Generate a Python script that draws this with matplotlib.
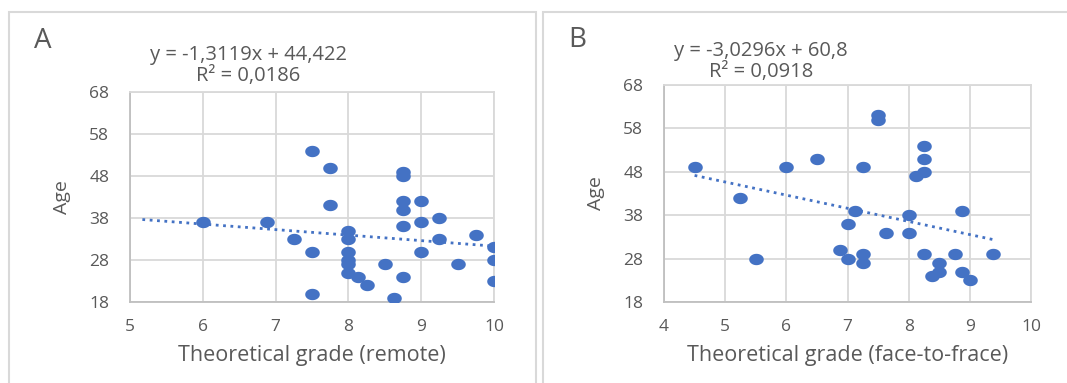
import numpy as np
import matplotlib
matplotlib.use("Agg")
import matplotlib.pyplot as plt
from matplotlib.patches import Rectangle
from matplotlib.markers import MarkerStyle

plt.rcParams['font.family'] = ['Open Sans', 'DejaVu Sans']

# panel A: remote
a_x = [7.5, 7.75, 8.75, 8.75, 7.75, 8.75, 9, 8.75, 6, 6.875, 9.25, 9, 8.75, 8, 8, 7.25, 9.25,
       9.75, 10, 7.5, 8, 9, 8, 8, 10, 8.5, 9.5, 8, 8.125, 8.75, 8.25, 10, 7.5, 8.625]
a_y = [54, 50, 49, 48, 41, 42, 42, 40, 37, 37, 38, 37, 36, 35, 33, 33, 33,
       34, 31, 30, 30, 30, 28, 27, 28, 27, 27, 25, 24, 24, 22, 23, 20, 19]
a_slope, a_icpt, a_r2 = -1.3119, 44.422, 0.0186
a_fit_x = [5.17, 10]

# panel B: face-to-face
b_x = [4.5, 5.25, 5.5, 6, 6.5, 7.25, 7.5, 7.5, 8.25, 8.25, 8.25, 8.125, 7.125, 8, 8.875,
       7, 7.625, 8, 6.875, 7, 7.25, 7.25, 8.25, 8.75, 9.375, 8.5, 8.5, 8.375, 8.875, 9]
b_y = [49, 42, 28, 49, 51, 49, 61, 60, 54, 51, 48, 47, 39, 38, 39,
       36, 34, 34, 30, 28, 29, 27, 29, 29, 29, 27, 25, 24, 25, 23]
b_slope, b_icpt, b_r2 = -3.0296, 60.8, 0.0918
b_fit_x = [4.5, 9.375]

y_ticks = [18, 28, 38, 48, 58, 68]

W, H = 1067, 383
BLUE = '#4472C4'
TXT = '#595959'
GRID = '#D9D9D9'

fig = plt.figure(figsize=(W / 100, H / 100), dpi=100)

# panel frames (pixel coords -> figure fraction)
def frame(x0, x1, y0):
    fig.patches.append(Rectangle((x0 / W, -0.02), (x1 - x0) / W, 0.02 + 1 - y0 / H,
                                 transform=fig.transFigure, fill=False,
                                 edgecolor=GRID, linewidth=1.5))

frame(9, 536, 12)
frame(543, 1080, 12)

t = np.linspace(0, 2 * np.pi, 60)
ell = MarkerStyle(np.column_stack([np.cos(t), 0.78 * np.sin(t)]))


def fmt(v):
    return f"{v}".replace('.', ',')


def panel(box, xs, ys, xlim, xticks, slope, icpt, r2, fit_x, letter, letter_xy, eq_xy, xlabel):
    l, r, top, bot = box
    ax = fig.add_axes([l / W, 1 - bot / H, (r - l) / W, (bot - top) / H])
    ax.set_xlim(*xlim)
    ax.set_ylim(18, 68)
    ax.set_xticks(xticks)
    ax.set_yticks(y_ticks)
    ax.grid(True, color=GRID, linewidth=1.3)
    ax.set_axisbelow(True)
    for s in ax.spines.values():
        s.set_color(GRID)
        s.set_linewidth(1.3)
    ax.spines['left'].set_color('#BFBFBF')
    ax.spines['bottom'].set_color('#BFBFBF')
    ax.tick_params(length=0, labelsize=12.5, labelcolor=TXT)
    ax.tick_params(axis='y', pad=15)
    ax.tick_params(axis='x', pad=12)

    ax.scatter(xs, ys, s=110, marker=ell, color=BLUE, linewidths=0, zorder=3)
    fx = np.array(fit_x)
    ax.plot(fx, slope * fx + icpt, ':', color=BLUE, linewidth=2, zorder=2)

    ax.set_xlabel(xlabel, fontsize=15.5, color=TXT, va='center')
    ax.xaxis.set_label_coords(0.5, -(355 - bot) / (bot - top))
    ax.set_ylabel('Age', fontsize=14, color=TXT, va='center')
    ax.yaxis.set_label_coords(-68 / (r - l), 0.5)

    fig.text(letter_xy[0] / W, 1 - letter_xy[1] / H, letter, fontsize=20, color=TXT,
             ha='center', va='center')
    sign = '-' if slope < 0 else ''
    fig.text(eq_xy[0] / W, 1 - eq_xy[1] / H,
             f"y = {sign}{fmt(abs(slope))}x + {fmt(icpt)}", fontsize=14.5, color=TXT,
             ha='center', va='center')
    fig.text(eq_xy[0] / W, 1 - (eq_xy[1] + 21) / H,
             f"R² = {fmt(r2)}", fontsize=14.5, color=TXT, ha='center', va='center')
    return ax


panel((130, 494, 92, 302), a_x, a_y, (5, 10), [5, 6, 7, 8, 9, 10], a_slope, a_icpt, a_r2,
      a_fit_x, 'A', (43, 41), (248, 55), 'Theoretical grade (remote)')
panel((664, 1031, 85, 302), b_x, b_y, (4, 10), [4, 5, 6, 7, 8, 9, 10], b_slope, b_icpt, b_r2,
      b_fit_x, 'B', (577, 40), (761, 51), 'Theoretical grade (face-to-frace)')

fig.savefig('out.png', dpi=100, facecolor='white')
